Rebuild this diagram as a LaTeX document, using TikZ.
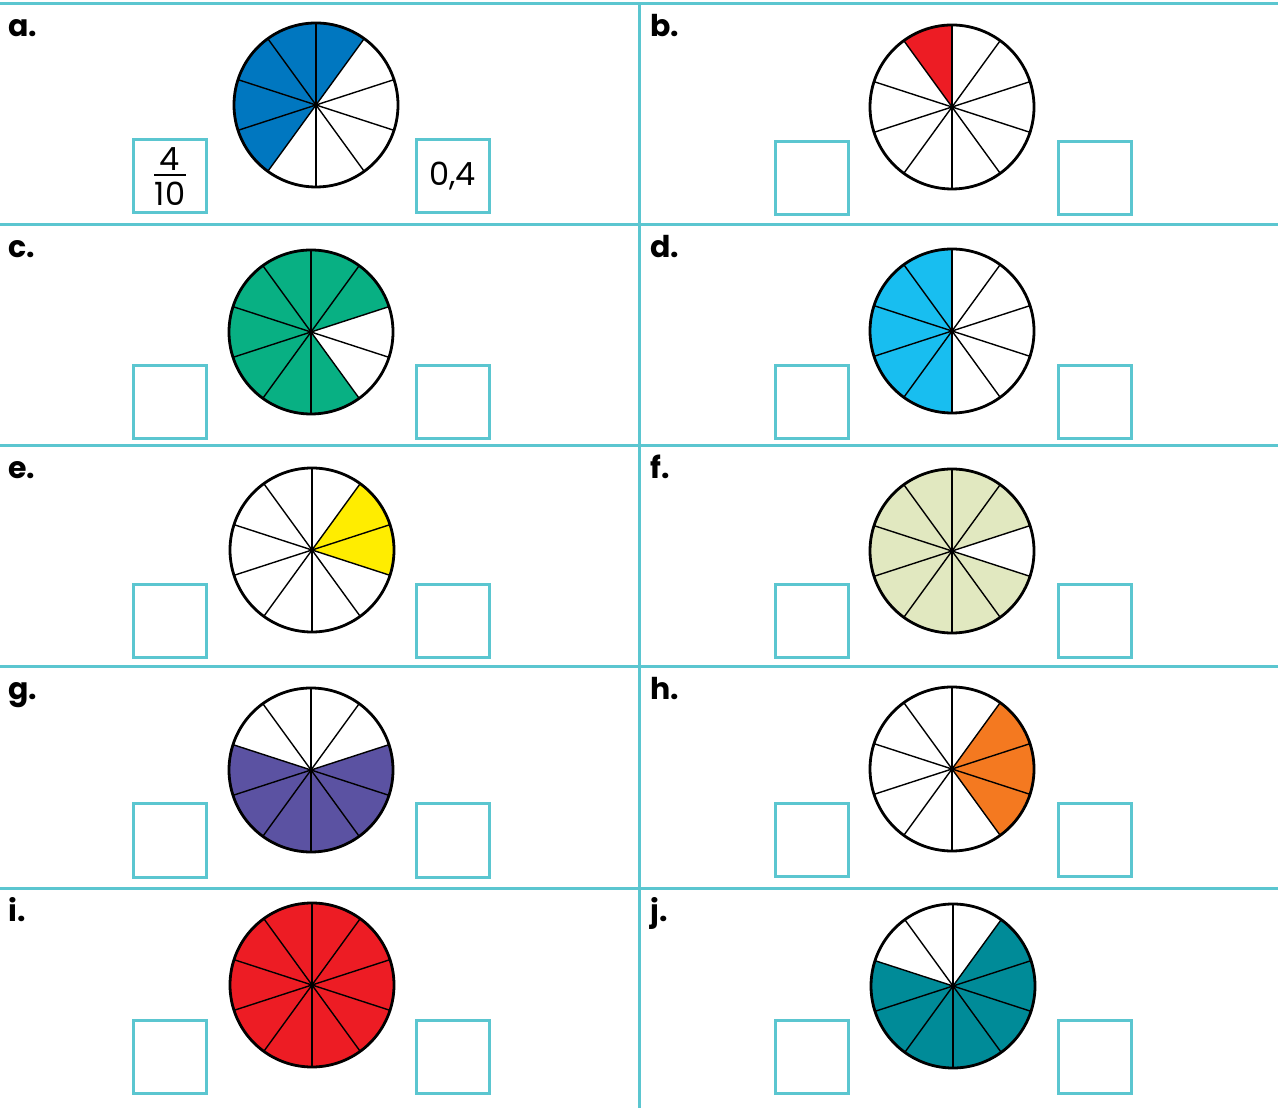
\documentclass[tikz,border=0pt]{standalone}
\usepackage{fontspec}
\setmainfont{Poppins}
\usepackage{xcolor}
\usepackage{tikz}

\definecolor{gridcyan}{RGB}{91,198,208}
\definecolor{pieblue}{RGB}{0,119,192}
\definecolor{piered}{RGB}{237,28,36}
\definecolor{piegreen}{RGB}{8,176,131}
\definecolor{pieaqua}{RGB}{24,190,240}
\definecolor{pieyellow}{RGB}{255,237,0}
\definecolor{piesage}{RGB}{225,232,192}
\definecolor{piepurple}{RGB}{91,82,162}
\definecolor{pieorange}{RGB}{244,121,32}
\definecolor{pieteal}{RGB}{0,139,152}

\begin{document}
\begin{tikzpicture}[x=0.5pt,y=0.5pt,
  gridline/.style={draw=gridcyan, line width=1.5pt},
  ansbox/.style={draw=gridcyan, line width=1.5pt, minimum size=36.5pt, inner sep=0pt},
  rim/.style={line width=1.4pt},
  spoke/.style={line width=0.7pt},
  tag/.style={anchor=base west, inner sep=0pt, font=\fontsize{15}{17}\selectfont\bfseries},
  digits/.style={inner sep=0pt, font=\fontsize{16}{18}\selectfont}]

\useasboundingbox (0,0) rectangle (1278,1108);

% grid
\foreach \y in {1104,883,662,441,220}
  \draw[gridline] (0,\y) -- (1278,\y);
\draw[gridline] (639,1104) -- (639,0);

% panels: label, column x, row top, pie centre, box y, shaded arc, colour
\foreach \lab/\xo/\ty/\cx/\cy/\boxy/\sa/\ea/\fillcol in {
    a/0/1104/316/1003/932/54/234/pieblue,
    b/642/1104/952/1001/929.5/90/126/piered,
    c/0/883/311/776/706/18/306/piegreen,
    d/642/883/952/777/706/90/270/pieaqua,
    e/0/662/312/558/486.5/-18/54/pieyellow,
    f/642/662/952/557/486.5/18/342/piesage,
    g/0/441/311/338/267.5/162/378/piepurple,
    h/642/441/952/339/268/-54/54/pieorange,
    i/0/220/312/123/51.5/0/360/piered,
    j/642/220/953/122/51.5/162/414/pieteal} {
  \coordinate (pie-\lab) at (\cx,\cy);
  \fill[\fillcol] (pie-\lab) -- ++(\sa:41pt) arc[start angle=\sa, end angle=\ea, radius=41pt] -- cycle;
  \foreach \k in {0,...,9}
    \draw[spoke] (pie-\lab) -- ++(90+36*\k:41pt);
  \draw[rim] (pie-\lab) circle[radius=41pt];
  \node[tag] (tag-\lab) at (\xo+8,\ty-33) {\lab.};
  \node[ansbox] (lbox-\lab) at (\xo+169.5,\boxy) {};
  \node[ansbox] (rbox-\lab) at (\xo+452.5,\boxy) {};
}

% worked example
\node[digits] (num) at (169.5,949) {4};
\node[digits] (den) at (170,914) {10};
\draw[line width=0.6pt] (154,933) -- (186,933);
\node[digits] (dec) at (rbox-a) {0,4};

\end{tikzpicture}
\end{document}
